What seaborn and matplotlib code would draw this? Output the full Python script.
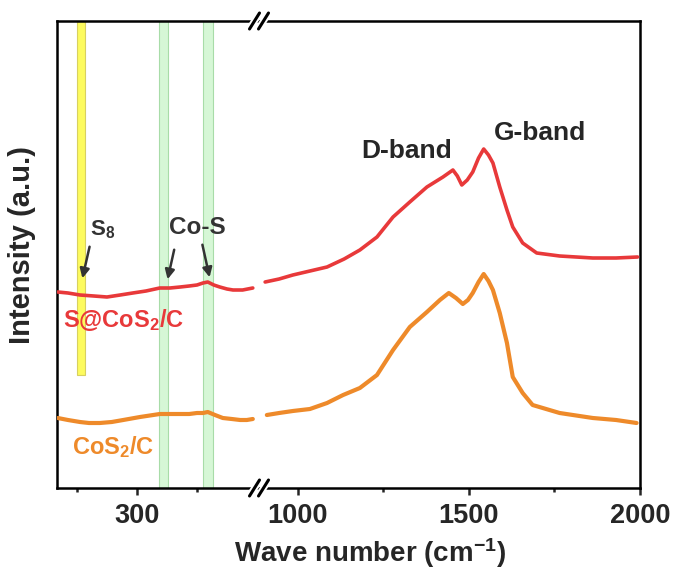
import matplotlib
matplotlib.use("Agg")
import matplotlib.pyplot as plt
import seaborn as sns
import pandas as pd

# ---------------- data ----------------
# left segment (low wavenumber)
red_left_wn = [168, 185, 205, 228, 250, 272, 293, 315, 338, 355, 372, 387, 400, 410, 418, 428, 438, 450, 460, 476, 493]
red_left_int = [196, 195, 193, 192, 191, 193, 195, 197, 200, 200, 201, 202, 203, 205, 206, 203, 201, 199, 198, 198, 200]
orange_left_wn = [168, 185, 205, 220, 238, 258, 277, 305, 338, 355, 372, 387, 400, 410, 418, 430, 443, 458, 472, 483, 493]
orange_left_int = [70, 68, 66, 65, 65, 66, 68, 71, 74, 74, 74, 74, 75, 75, 76, 73, 70, 69, 68, 68, 69]

# right segment (carbon D/G bands)
red_right_wn = [904, 945, 985, 1035, 1085, 1135, 1181, 1231, 1278, 1327, 1377, 1424, 1453, 1466, 1479, 1495, 1511, 1528, 1543, 1557, 1570, 1590, 1611, 1628, 1657, 1698, 1765, 1862, 1930, 1993]
red_right_int = [206, 209, 213, 217, 221, 229, 238, 251, 271, 286, 301, 311, 318, 312, 303, 308, 316, 330, 339, 333, 325, 301, 278, 261, 245, 235, 232, 230, 230, 231]
orange_right_wn = [909, 945, 985, 1035, 1085, 1132, 1181, 1231, 1278, 1327, 1377, 1415, 1441, 1462, 1482, 1497, 1511, 1528, 1543, 1557, 1570, 1590, 1611, 1628, 1657, 1686, 1765, 1862, 1930, 1990]
orange_right_int = [73, 75, 77, 79, 85, 93, 100, 113, 138, 161, 176, 188, 195, 190, 184, 188, 195, 206, 214, 207, 198, 175, 145, 111, 95, 83, 75, 70, 68, 65]

# highlighted bands (wavenumber ranges)
s8_band = (200, 213)
cos_bands = [(337, 352), (410, 427)]

series_names = ["S@CoS$_2$/C", "CoS$_2$/C"]
series_colors = ["#e8393a", "#ee8a2a"]

left_ticks_major = [300]
left_ticks_minor = [200, 400]
right_ticks_major = [1000, 1500, 2000]
right_ticks_minor = [1250, 1750]

# ---------------- style ----------------
sns.set_style("ticks")
plt.rcParams["font.family"] = ["Liberation Sans", "DejaVu Sans"]
plt.rcParams["font.weight"] = "bold"
plt.rcParams["mathtext.fontset"] = "custom"
plt.rcParams["mathtext.rm"] = "Liberation Sans:bold"
plt.rcParams["mathtext.bf"] = "Liberation Sans:bold"
plt.rcParams["mathtext.it"] = "Liberation Sans:bold"
plt.rcParams["mathtext.default"] = "rm"

W, H = 679, 575
fig = plt.figure(figsize=(W / 100, H / 100), dpi=100)
x0, x1, xb = 57 / W, 640 / W, 260 / W
y0, y1 = 1 - 488 / H, 1 - 21 / H
axL = fig.add_axes([x0, y0, xb - x0, y1 - y0])
axR = fig.add_axes([xb, y0, x1 - xb, y1 - y0], sharey=axL)

dfL = pd.concat([
    pd.DataFrame({"wn": red_left_wn, "I": red_left_int, "s": series_names[0]}),
    pd.DataFrame({"wn": orange_left_wn, "I": orange_left_int, "s": series_names[1]}),
])
dfR = pd.concat([
    pd.DataFrame({"wn": red_right_wn, "I": red_right_int, "s": series_names[0]}),
    pd.DataFrame({"wn": orange_right_wn, "I": orange_right_int, "s": series_names[1]}),
])
pal = dict(zip(series_names, series_colors))

for ax, df in ((axL, dfL), (axR, dfR)):
    for name in series_names:
        sub = df[df["s"] == name]
        sns.lineplot(data=sub, x="wn", y="I", color=pal[name], ax=ax,
                     lw=2.6 if name == series_names[0] else 3.0,
                     sort=False, estimator=None, legend=False, zorder=3)

# bands
axL.axvspan(*s8_band, ymin=113 / 467, ymax=1, facecolor="#fdfb5e",
            edgecolor="#d8d060", lw=0.8, zorder=1)
for b in cos_bands:
    axL.axvspan(*b, facecolor="#d6f7d6", edgecolor="#a8dca8", lw=0.8, zorder=1)

axL.set_xlim(166.7, 505)
axR.set_xlim(889, 2000)
axL.set_ylim(0, 467)

for ax in (axL, axR):
    ax.set_xlabel("")
    ax.set_ylabel("")
    ax.set_yticks([])
    for sp in ax.spines.values():
        sp.set_linewidth(1.8)
        sp.set_color("black")
    ax.tick_params(axis="x", which="major", direction="out", length=5, width=1.8,
                   labelsize=19.5, pad=6)
    ax.tick_params(axis="x", which="minor", direction="out", length=3, width=1.8)
    ax.tick_params(axis="y", left=False, right=False)

axL.spines["right"].set_visible(False)
axR.spines["left"].set_visible(False)
axR.tick_params(axis="y", labelleft=False)
axL.set_xticks(left_ticks_major)
axL.set_xticks(left_ticks_minor, minor=True)
axR.set_xticks(right_ticks_major)
axR.set_xticks(right_ticks_minor, minor=True)
for lab in axL.get_xticklabels() + axR.get_xticklabels():
    lab.set_fontweight("bold")

# break marks
for color, lw in (("white", 5), ("black", 2.2)):
    for yc in (488, 21):
        for dx in (-4.5, 4.5):
            xc = 259 + dx
            fig.add_artist(plt.Line2D([(xc - 5) / W, (xc + 5) / W],
                                      [1 - (yc + 8) / H, 1 - (yc - 8) / H],
                                      color=color, lw=lw, transform=fig.transFigure))

# annotations
gray = "#333333"
axL.text(242, 258, "S$_8$", color=gray, fontsize=16, fontweight="bold",
         ha="center", va="center")
axL.annotate("", xy=(208, 207), xytext=(222, 244),
             arrowprops=dict(arrowstyle="-|>", color=gray, lw=1.8, mutation_scale=14))
axL.text(400, 260, "Co-S", color=gray, fontsize=17.5, fontweight="bold",
         ha="center", va="center")
axL.annotate("", xy=(350, 206), xytext=(363, 241),
             arrowprops=dict(arrowstyle="-|>", color=gray, lw=1.8, mutation_scale=14))
axL.annotate("", xy=(422, 208), xytext=(408, 246),
             arrowprops=dict(arrowstyle="-|>", color=gray, lw=1.8, mutation_scale=14))
axL.text(177, 168, series_names[0], color=series_colors[0], fontsize=17,
         fontweight="bold", ha="left", va="center")
axL.text(192, 41, series_names[1], color=series_colors[1], fontsize=17,
         fontweight="bold", ha="left", va="center")
axR.text(1318, 337, "D-band", fontsize=19, fontweight="bold", ha="center", va="center")
axR.text(1707, 355, "G-band", fontsize=19, fontweight="bold", ha="center", va="center")

fig.text(22 / W, 1 - 245 / H, "Intensity (a.u.)", rotation=90, fontsize=21,
         fontweight="bold", ha="center", va="center")
fig.text(370 / W, 1 - 553 / H, "Wave number (cm$^{-1}$)", fontsize=20,
         fontweight="bold", ha="center", va="center")

fig.savefig("out.png", dpi=100)
